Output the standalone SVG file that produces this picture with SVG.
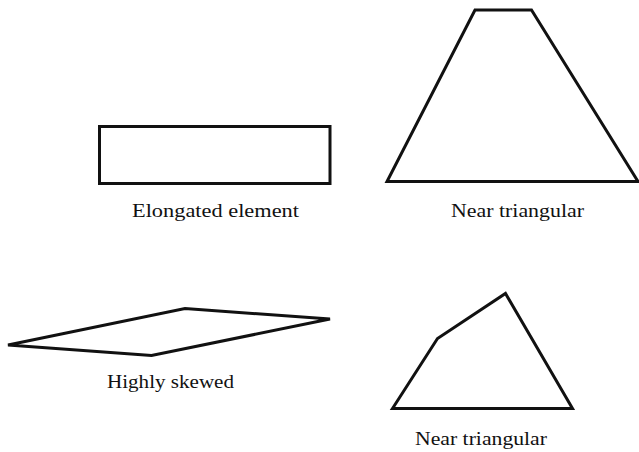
<svg xmlns="http://www.w3.org/2000/svg" width="639" height="452" viewBox="0 0 639 452">
<style>
.shape{fill:#fff;stroke:#111;stroke-width:3;stroke-linejoin:miter}
.lbl{font-family:"Liberation Serif",serif;font-size:19px;fill:#111}
</style>
<rect width="639" height="452" fill="#fff"/>
<g id="elongated">
<rect class="shape" x="99.5" y="126.5" width="230.5" height="57"/>
<text class="lbl" x="132" y="217" textLength="167" lengthAdjust="spacingAndGlyphs">Elongated element</text>
</g>
<g id="near-triangular-1">
<polygon class="shape" points="475,10 531.5,10 638,181.5 387,181.5"/>
<text class="lbl" x="451" y="217" textLength="133" lengthAdjust="spacingAndGlyphs">Near triangular</text>
</g>
<g id="highly-skewed">
<polygon class="shape" points="8,345 185,308.5 330,319 151.5,355.5"/>
<text class="lbl" x="107" y="388" textLength="127" lengthAdjust="spacingAndGlyphs">Highly skewed</text>
</g>
<g id="near-triangular-2">
<polygon class="shape" points="392.5,408.5 437.5,338.5 505.5,293.5 572.5,408.5"/>
<text class="lbl" x="415" y="445" textLength="132" lengthAdjust="spacingAndGlyphs">Near triangular</text>
</g>
<g id="connectors"/>
</svg>
